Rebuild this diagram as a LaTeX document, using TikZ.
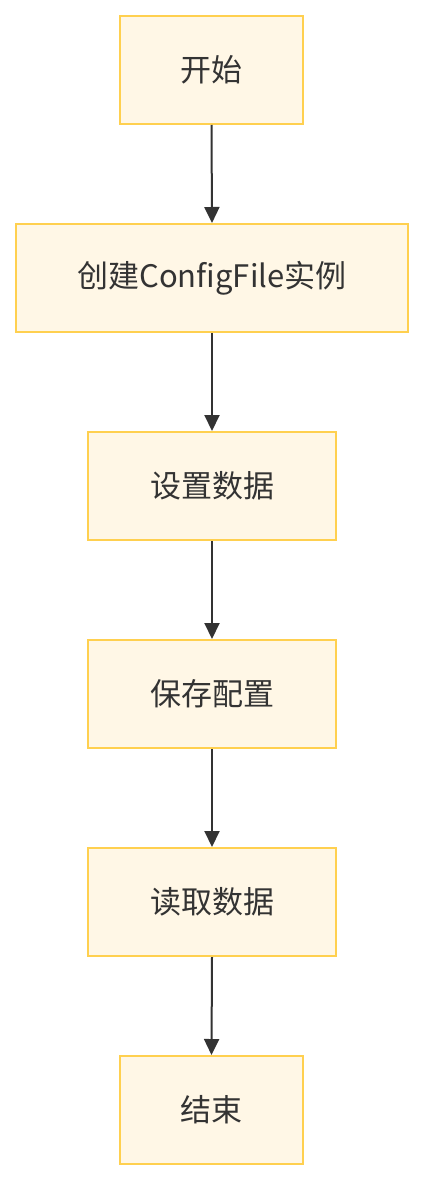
\documentclass[tikz,border=0pt]{standalone}
\usepackage{fontspec}
\setmainfont{Noto Sans CJK SC}
\usetikzlibrary{arrows.meta}
\definecolor{boxfill}{HTML}{FFF7E6}
\definecolor{boxdraw}{HTML}{FFD04F}
\definecolor{ink}{HTML}{333333}
\begin{document}
\begin{tikzpicture}[x=1pt,y=-1pt,
  stepbox/.style={draw=boxdraw,fill=boxfill,line width=2pt,text=ink,
    font=\fontsize{31}{36}\selectfont,inner sep=0pt,anchor=center},
  flow/.style={draw=ink,line width=2pt,-{Triangle[length=16pt,width=15pt]}}]
\useasboundingbox (0,0) rectangle (424,1180);
\node[stepbox,minimum width=183pt,minimum height=108pt] (a) at (211.5,70) {开始};
\node[stepbox,minimum width=392pt,minimum height=108pt] (b) at (212,278) {创建ConfigFile实例};
\node[stepbox,minimum width=248pt,minimum height=108pt] (c) at (212,486) {设置数据};
\node[stepbox,minimum width=248pt,minimum height=108pt] (d) at (212,694) {保存配置};
\node[stepbox,minimum width=248pt,minimum height=108pt] (e) at (212,902) {读取数据};
\node[stepbox,minimum width=183pt,minimum height=108pt] (f) at (211.5,1110) {结束};
\draw[flow] (a.south) -- (b.north);
\draw[flow] (b.south) -- (c.north);
\draw[flow] (c.south) -- (d.north);
\draw[flow] (d.south) -- (e.north);
\draw[flow] (e.south) -- (f.north);
\end{tikzpicture}
\end{document}
